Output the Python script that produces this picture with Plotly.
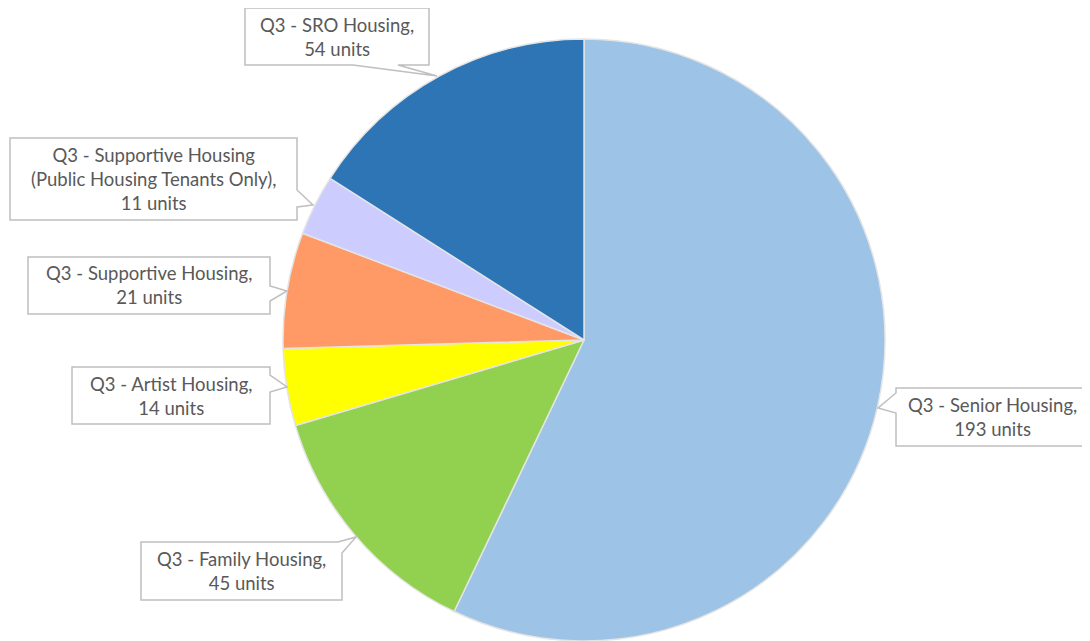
import plotly.graph_objects as go

# ---- data ----
categories = [
    "Q3 - Senior Housing",
    "Q3 - Family Housing",
    "Q3 - Artist Housing",
    "Q3 - Supportive Housing",
    "Q3 - Supportive Housing (Public Housing Tenants Only)",
    "Q3 - SRO Housing",
]
label_lines = [
    ["Q3 - Senior Housing,"],
    ["Q3 - Family Housing,"],
    ["Q3 - Artist Housing,"],
    ["Q3 - Supportive Housing,"],
    ["Q3 - Supportive Housing", "(Public Housing Tenants Only),"],
    ["Q3 - SRO Housing,"],
]
units = [193, 45, 14, 21, 11, 54]
colors = ["#9DC3E6", "#92D050", "#FFFF00", "#FF9966", "#CCCCFF", "#2E75B6"]

W, H = 1090, 641
OFF = 8  # page body margin compensation

# callout geometry in window pixels
callouts = [
    dict(box=(896, 388, 1089, 446), side="left", base=(393, 413), tip=(878, 408)),
    dict(box=(141, 542, 342, 600), side="topright", base=(338, 553), tip=(356, 537)),
    dict(box=(72, 367, 270, 424), side="right", base=(375, 392), tip=(287, 387)),
    dict(box=(28, 257, 270, 314), side="right", base=(286, 301), tip=(287, 291)),
    dict(box=(10, 138, 297, 220), side="right", base=(190, 207), tip=(313, 205)),
    dict(box=(245, 8, 429, 65), side="bottom", base=(353, 398), tip=(437, 76)),
]


def px(x, y):
    return f"{(x - OFF) / W:.5f},{1 - (y - OFF) / H:.5f}"


def callout_path(c):
    x0, y0, x1, y1 = c["box"]
    b0, b1 = c["base"]
    tx, ty = c["tip"]
    s = c["side"]
    if s == "left":
        pts = [(x0, y0), (x1, y0), (x1, y1), (x0, y1), (x0, b1), (tx, ty), (x0, b0)]
    elif s == "right":
        pts = [(x0, y0), (x1, y0), (x1, b0), (tx, ty), (x1, b1), (x1, y1), (x0, y1)]
    elif s == "bottom":
        pts = [(x0, y0), (x1, y0), (x1, y1), (b1, y1), (tx, ty), (b0, y1), (x0, y1)]
    else:  # topright
        pts = [(x0, y0), (b0, y0), (tx, ty), (x1, b1), (x1, y1), (x0, y1)]
    return "M " + " L ".join(px(x, y) for x, y in pts) + " Z"


cx, cy, r = 584 - OFF, 340 - OFF, 301
fig = go.Figure(
    go.Pie(
        labels=categories,
        values=units,
        marker=dict(colors=colors, line=dict(color="#E4E4E4", width=1.5)),
        sort=False,
        direction="clockwise",
        rotation=0,
        textinfo="none",
        hoverinfo="label+value",
        showlegend=False,
        domain=dict(x=[(cx - r) / W, (cx + r) / W],
                    y=[(H - cy - r) / H, (H - cy + r) / H]),
    )
)

shapes = []
annotations = []
for lines, u, c in zip(label_lines, units, callouts):
    shapes.append(
        dict(
            type="path",
            xref="paper",
            yref="paper",
            path=callout_path(c),
            line=dict(color="#BFBFBF", width=1.5),
            fillcolor="white",
            layer="above",
        )
    )
    x0, y0, x1, y1 = c["box"]
    text = "<br>".join(lines + [f"{u} units"])
    annotations.append(
        dict(
            xref="paper",
            yref="paper",
            x=((x0 + x1) / 2 - OFF) / W,
            y=1 - ((y0 + y1) / 2 - OFF) / H,
            xanchor="center",
            yanchor="middle",
            text=text,
            showarrow=False,
            align="center",
            font=dict(family="Lato, sans-serif", size=18.5, color="#595959"),
        )
    )

fig.update_layout(
    width=W,
    height=H,
    margin=dict(l=0, r=0, t=0, b=0),
    paper_bgcolor="white",
    plot_bgcolor="white",
    shapes=shapes,
    annotations=annotations,
)

fig.write_html("out.html")
